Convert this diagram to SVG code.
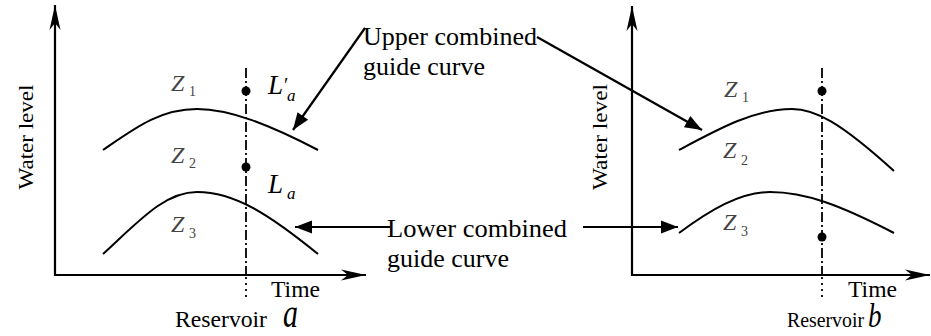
<svg xmlns="http://www.w3.org/2000/svg" width="931" height="336" viewBox="0 0 931 336">
<style>
.t{font-family:"Liberation Serif","Times New Roman",serif;fill:#000}
.z{font-family:"Liberation Serif","Times New Roman",serif;font-style:italic;fill:#444;font-size:24px}
.zs{font-family:"Liberation Serif","Times New Roman",serif;fill:#444;font-size:14px}
.ax{stroke:#000;stroke-width:2.2;fill:none}
.cv{stroke:#000;stroke-width:2;fill:none}
.dd{stroke:#000;stroke-width:1.8;fill:none;stroke-dasharray:10 3 2 3}
.dt{stroke:#000;stroke-width:1.8;fill:none;stroke-dasharray:2 4}
.ar{stroke:#000;stroke-width:2.2;fill:none}
</style>
<defs>
<marker id="axh" markerUnits="userSpaceOnUse" markerWidth="30" markerHeight="14" viewBox="-26 -7 28 14" refX="0" refY="0" orient="auto">
<path d="M0,0 L-25,-5.5 L-18,0 L-25,5.5 Z" fill="#000"/>
</marker>
<marker id="tri" markerUnits="userSpaceOnUse" markerWidth="20" markerHeight="16" viewBox="-18 -8 19 16" refX="0" refY="0" orient="auto">
<path d="M0,0 L-17,-6.5 L-17,6.5 Z" fill="#000"/>
</marker>
</defs>

<g id="chart-a">
<line class="ax" x1="55" y1="276" x2="55" y2="5" marker-end="url(#axh)"/>
<line class="ax" x1="54" y1="275" x2="366" y2="275" marker-end="url(#axh)"/>
<text class="t" font-size="22" transform="translate(33,137) rotate(-90)" text-anchor="middle" textLength="105" lengthAdjust="spacingAndGlyphs">Water level</text>
<path class="cv" d="M103,150 C135,128 160,109 197,109 C230,109 270,125 318,150"/>
<path class="cv" d="M103,254 C140,220 165,192 197,192 C235,192 270,215 318,254"/>
<line class="dd" x1="246" y1="68" x2="246" y2="275"/>
<line class="dt" x1="246" y1="277" x2="246" y2="298"/>
<circle cx="246" cy="91" r="4.5" fill="#000"/>
<circle cx="246" cy="167" r="4.5" fill="#000"/>
<text class="z" x="171" y="91">Z</text><text class="zs" x="189" y="96">1</text>
<text class="z" x="171" y="163">Z</text><text class="zs" x="189" y="168">2</text>
<text class="z" x="171" y="232">Z</text><text class="zs" x="189" y="238">3</text>
<text class="t" font-style="italic" font-size="27" x="268" y="94">L</text>
<text class="t" font-size="20" x="284" y="92">′</text>
<text class="t" font-style="italic" font-size="17" x="287" y="101">a</text>
<text class="t" font-style="italic" font-size="27" x="268" y="193">L</text>
<text class="t" font-style="italic" font-size="17" x="287" y="199">a</text>
<text class="t" font-size="23" x="271" y="297" textLength="49" lengthAdjust="spacingAndGlyphs">Time</text>
<text class="t" font-size="24" x="175" y="327" textLength="92" lengthAdjust="spacingAndGlyphs">Reservoir</text>
<text class="t" font-style="italic" font-size="30" transform="translate(283,327) scale(1,1.3)">a</text>
</g>

<g id="chart-b">
<line class="ax" x1="632" y1="276" x2="632" y2="6" marker-end="url(#axh)"/>
<line class="ax" x1="631" y1="275" x2="930" y2="275" marker-end="url(#axh)"/>
<text class="t" font-size="22" transform="translate(607,137) rotate(-90)" text-anchor="middle" textLength="106" lengthAdjust="spacingAndGlyphs">Water level</text>
<path class="cv" d="M679,150 C720,128 755,109 792,109 C815,109 840,122 894,171"/>
<path class="cv" d="M679,233 C710,210 740,192 770,192 C805,192 840,205 894,233"/>
<line class="dd" x1="822" y1="68" x2="822" y2="275"/>
<line class="dt" x1="822" y1="277" x2="822" y2="298"/>
<circle cx="822" cy="91" r="4.5" fill="#000"/>
<circle cx="822" cy="237" r="4.5" fill="#000"/>
<text class="z" x="724" y="97">Z</text><text class="zs" x="742" y="102">1</text>
<text class="z" x="723" y="158">Z</text><text class="zs" x="741" y="165">2</text>
<text class="z" x="723" y="230">Z</text><text class="zs" x="741" y="236">3</text>
<text class="t" font-size="23" x="848" y="297" textLength="49" lengthAdjust="spacingAndGlyphs">Time</text>
<text class="t" font-size="22" x="787" y="327" textLength="77" lengthAdjust="spacingAndGlyphs">Reservoir</text>
<text class="t" font-style="italic" font-size="27" transform="translate(868,327) scale(1,1.25)">b</text>
</g>

<g id="label-upper">
<text class="t" font-size="26" x="363" y="45" textLength="174" lengthAdjust="spacingAndGlyphs">Upper combined</text>
<text class="t" font-size="26" x="363" y="75">guide curve</text>
</g>

<g id="label-lower">
<text class="t" font-size="26" x="387" y="237" textLength="180" lengthAdjust="spacingAndGlyphs">Lower combined</text>
<text class="t" font-size="26" x="387" y="267">guide curve</text>
</g>

<g id="connectors">
<line class="ar" x1="365" y1="28" x2="293" y2="130" marker-end="url(#tri)"/>
<line class="ar" x1="537" y1="37" x2="702" y2="130" marker-end="url(#tri)"/>
<line class="ar" x1="390" y1="227" x2="295" y2="227" marker-end="url(#tri)"/>
<line class="ar" x1="583" y1="227" x2="678" y2="227" marker-end="url(#tri)"/>
</g>
</svg>
